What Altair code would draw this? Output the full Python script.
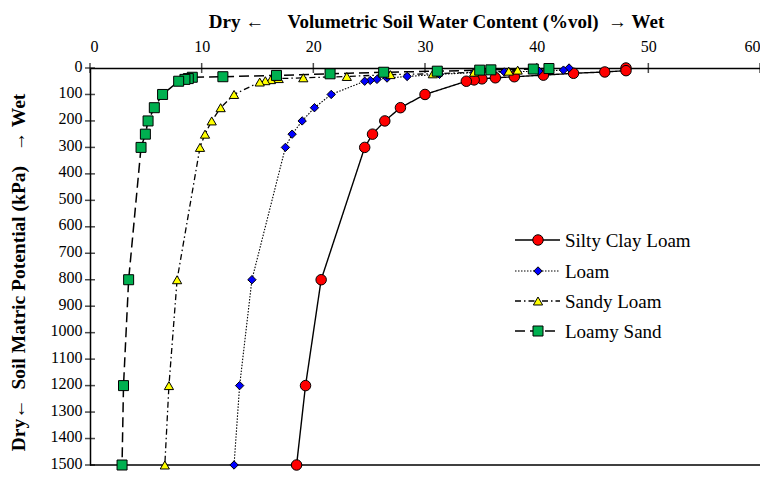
import altair as alt
import pandas as pd

SERIES = ["Silty Clay Loam", "Loam", "Sandy Loam", "Loamy Sand"]

scl_theta = [48.0, 48.0, 46.1, 43.3, 40.6, 38.0, 36.3, 35.1, 34.4, 33.7, 30.0, 27.8, 26.4, 25.3, 24.6, 20.7, 19.3, 18.5]
scl_psi = [0, 10, 15, 20, 27, 33, 37, 41, 45, 50, 100, 150, 200, 250, 300, 800, 1200, 1500]

loam_theta = [42.9, 42.4, 40.2, 37.1, 34.4, 31.3, 28.4, 26.6, 25.7, 25.1, 24.6, 21.6, 20.1, 19.0, 18.1, 17.5, 14.5, 13.4, 12.9]
loam_psi = [0, 8, 12, 15, 17, 24, 32, 38, 43, 47, 50, 100, 150, 200, 250, 300, 800, 1200, 1500]

sl_theta = [38.3, 37.5, 34.4, 30.7, 26.9, 23.0, 19.1, 16.9, 16.2, 15.7, 15.2, 12.9, 11.7, 10.9, 10.3, 9.85, 7.8, 7.07, 6.7]
sl_psi = [8, 12, 16, 22, 25, 32, 37, 40, 44, 48, 53, 100, 150, 200, 250, 300, 800, 1200, 1500]

ls_theta = [41.1, 39.7, 35.9, 34.9, 31.1, 26.3, 21.5, 16.7, 11.9, 9.16, 8.8, 8.5, 7.94, 6.5, 5.76, 5.2, 4.96, 4.57, 3.46, 3.0, 2.87]
ls_psi = [2, 4, 7, 8, 12, 16, 22, 28, 33, 35, 40, 43, 50, 100, 150, 200, 250, 300, 800, 1200, 1500]

x_ticks = [0, 10, 20, 30, 40, 50, 60]
y_ticks = list(range(0, 1501, 100))

FONT = "Liberation Serif"
W, H = 670, 397

styles = {
    "Silty Clay Loam": dict(shape="circle", fill="#FF0000", size=110, dash=[1, 0], lw=1.4),
    "Loam": dict(shape="diamond", fill="#0000FF", size=70, dash=[1.5, 1.5], lw=1.1),
    "Sandy Loam": dict(shape="triangle-up", fill="#FFFF00", size=85, dash=[6, 3, 1.5, 3], lw=1.3),
    "Loamy Sand": dict(shape="square", fill="#00B050", size=100, dash=[10, 5], lw=1.5),
}

data = {
    "Silty Clay Loam": (scl_theta, scl_psi),
    "Loam": (loam_theta, loam_psi),
    "Sandy Loam": (sl_theta, sl_psi),
    "Loamy Sand": (ls_theta, ls_psi),
}

x_scale = alt.Scale(domain=[0, 60], nice=False, zero=False)
y_scale = alt.Scale(domain=[0, 1500], reverse=True, nice=False, zero=False)

x_axis = alt.Axis(
    orient="top", values=x_ticks, ticks=False, grid=False, domainColor="black", domainWidth=1.5,
    labelFont=FONT, labelFontSize=16, labelColor="black", labelPadding=14, format="d",
    labelOverlap=False,
    title="Dry \u2190\u00a0\u00a0\u00a0\u00a0 Volumetric Soil Water Content (%vol)\u00a0 \u2192 Wet",
    titleFont=FONT, titleFontSize=19, titleFontWeight="bold", titleColor="black",
    titleX=346, titleY=-41, titleBaseline="alphabetic", titleAlign="center",
)
y_axis = alt.Axis(
    orient="left", values=y_ticks, ticks=False, grid=False, domainColor="black", domainWidth=1.5,
    labelFont=FONT, labelFontSize=16, labelColor="black", labelPadding=8, format="d",
    labelOverlap=False, labelFlush=False, labelOffset=-2,
    title="Dry\u2190\u00a0 Soil Matric Potential (kPa)\u00a0\u00a0 \u2192 Wet",
    titleFont=FONT, titleFontSize=19.5, titleFontWeight="bold", titleColor="black",
    titleX=-66, titleY=204, titleBaseline="alphabetic", titleAlign="center", titleAngle=270,
)


def X(field):
    return alt.X(field, scale=x_scale, axis=x_axis)


def Y(field):
    return alt.Y(field, scale=y_scale, axis=y_axis)


layers = []

tick_x_df = pd.DataFrame({"t": x_ticks, "z": [0] * len(x_ticks)})
tick_y_df = pd.DataFrame({"t": y_ticks, "z": [0] * len(y_ticks)})
layers.append(
    alt.Chart(tick_y_df).mark_tick(orient="horizontal", size=10, thickness=1.5, color="black").encode(
        x=X("z:Q"), y=Y("t:Q")
    )
)
layers.append(
    alt.Chart(tick_x_df).mark_tick(orient="vertical", size=10, thickness=1.5, color="black").encode(
        x=X("t:Q"), y=Y("z:Q")
    )
)
frame_df = pd.DataFrame({"a": [0], "b": [60], "c": [1500]})
layers.append(
    alt.Chart(frame_df).mark_rule(color="black", strokeWidth=1.5).encode(
        x=X("a:Q"), x2="b:Q", y=Y("c:Q")
    )
)

legend_rows = [172, 203, 233, 263]

for name in SERIES:
    th, ps = data[name]
    st = styles[name]
    df = pd.DataFrame({"theta": th, "psi": ps, "soil": name})
    layers.append(
        alt.Chart(df).mark_line(color="black", strokeWidth=st["lw"], strokeDash=st["dash"]).encode(
            x=X("theta:Q"), y=Y("psi:Q"), order="psi:Q"
        )
    )

for i, name in enumerate(SERIES):
    th, ps = data[name]
    st = styles[name]
    df = pd.DataFrame({"theta": th, "psi": ps, "soil": name})
    layers.append(
        alt.Chart(df).mark_point(
            shape=st["shape"], size=st["size"], filled=True, fill=st["fill"], stroke="black",
            strokeWidth=1, opacity=1,
        ).encode(x=X("theta:Q"), y=Y("psi:Q"))
    )

    ldf = pd.DataFrame({"soil": [name]})
    ly = legend_rows[i]
    layers.append(
        alt.Chart(ldf).mark_rule(color="black", strokeWidth=st["lw"], strokeDash=st["dash"]).encode(
            x=alt.value(425), x2=alt.value(470), y=alt.value(ly)
        )
    )
    layers.append(
        alt.Chart(ldf).mark_point(
            shape=st["shape"], size=st["size"], filled=True, fill=st["fill"], stroke="black",
            strokeWidth=1, opacity=1,
        ).encode(x=alt.value(448), y=alt.value(ly))
    )
    layers.append(
        alt.Chart(ldf).mark_text(
            align="left", baseline="middle", font=FONT, fontSize=19, color="black"
        ).encode(x=alt.value(475), y=alt.value(ly + 1), text="soil:N")
    )

chart = alt.layer(*layers).properties(
    width=W, height=H,
    autosize=alt.AutoSizeParams(type="none"),
    padding={"left": 82, "top": 60, "right": 0, "bottom": 6},
).configure_view(stroke=None).configure_axis(
    labelFont=FONT, titleFont=FONT
).configure_text(font=FONT)

chart.save("out.html", embed_options={"renderer": "svg", "actions": False})
